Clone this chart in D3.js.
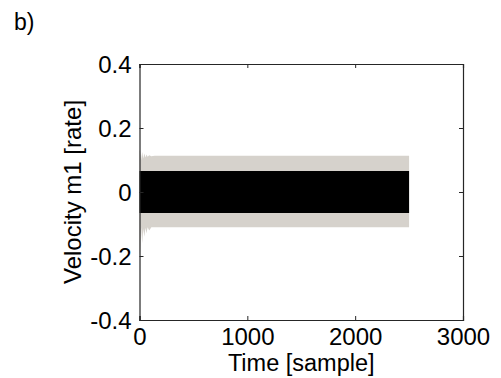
<!DOCTYPE html>
<html>
<head>
<meta charset="utf-8">
<script src="https://cdn.jsdelivr.net/npm/d3@7"></script>
<style>
  body { margin: 0; background: white; }
  svg { display: block; font-family: "Liberation Sans", Arial, sans-serif; }
</style>
</head>
<body>
<div id="figure"></div>
<script>
// tick labels
const xTicks = [0, 1000, 2000, 3000]
const yTicks = [-0.4, -0.2, 0, 0.2, 0.4]

// envelope of the reference (gray) response
const grayT = [0, 5, 15, 25, 35, 45, 55, 65, 75, 90, 110, 140, 2500]
const grayUpper = [0.13, 0.13, 0.10, 0.125, 0.105, 0.12, 0.108, 0.117, 0.11, 0.115, 0.112, 0.113, 0.113]
const grayLower = [-0.2, -0.19, -0.11, -0.16, -0.115, -0.14, -0.112, -0.13, -0.11, -0.12, -0.11, -0.11, -0.11]

// envelope of the controlled (black) response
const blackT = [0, 2500]
const blackUpper = [0.066, 0.066]
const blackLower = [-0.066, -0.066]

const width = 501, height = 378
const margin = { TOP: 64, LEFT: 139.5, RIGHT: 38, BOTTOM: 58 }

const svg = d3.select('#figure').append('svg').attr('width', width).attr('height', height)

const x = d3.scaleLinear().domain([0, 3000]).range([margin.LEFT, width - margin.RIGHT])
const y = d3.scaleLinear().domain([-0.4, 0.4]).range([height - margin.BOTTOM, margin.TOP])

function band(ts, up, lo) {
  return d3.area()
    .x((d, i) => x(ts[i]))
    .y0((d, i) => y(lo[i]))
    .y1((d, i) => y(up[i]))
    .curve(d3.curveLinear)(ts)
}

svg.append('path').attr('d', band(grayT, grayUpper, grayLower)).attr('fill', '#d6d2cc')
svg.append('path').attr('d', band(blackT, blackUpper, blackLower)).attr('fill', '#000')

// axes, ticks pointing inward
const axisColor = '#262626'
const fs = '24px'

const gx = svg.append('g').attr('transform', `translate(0,${y(-0.4)})`)
  .call(d3.axisBottom(x).tickValues(xTicks).tickSize(-4).tickPadding(8).tickFormat(d3.format('d')))
const gxTop = svg.append('g').attr('transform', `translate(0,${y(0.4)})`)
  .call(d3.axisTop(x).tickValues(xTicks).tickSize(-4).tickFormat(''))
const gy = svg.append('g').attr('transform', `translate(${x(0)},0)`)
  .call(d3.axisLeft(y).tickValues(yTicks).tickSize(-4).tickPadding(8)
    .tickFormat(d => d === 0 ? '0' : d.toFixed(1)))
const gyRight = svg.append('g').attr('transform', `translate(${x(3000)},0)`)
  .call(d3.axisRight(y).tickValues(yTicks).tickSize(-4).tickFormat(''))

;[gx, gxTop, gy, gyRight].forEach(g => {
  g.select('.domain').attr('stroke', axisColor).attr('stroke-width', 1.2)
  g.selectAll('.tick line').attr('stroke', axisColor)
  g.selectAll('.tick text').attr('fill', '#000').style('font-size', fs).style('font-family', '"Liberation Sans", Arial, sans-serif')
})
gy.selectAll('.tick text').attr('dy', '0.36em')

// labels
svg.append('text').text('Time [sample]')
  .attr('x', x(1500)).attr('y', 371).attr('text-anchor', 'middle')
  .style('font-size', '23.5px').attr('fill', '#000')

svg.append('text').text('Velocity m1 [rate]')
  .attr('transform', `translate(81,${y(0)}) rotate(-90)`).attr('text-anchor', 'middle')
  .style('font-size', fs).attr('fill', '#000')

svg.append('text').text('b)').attr('x', 14).attr('y', 30)
  .style('font-size', '23px').attr('fill', '#000')
</script>
</body>
</html>
